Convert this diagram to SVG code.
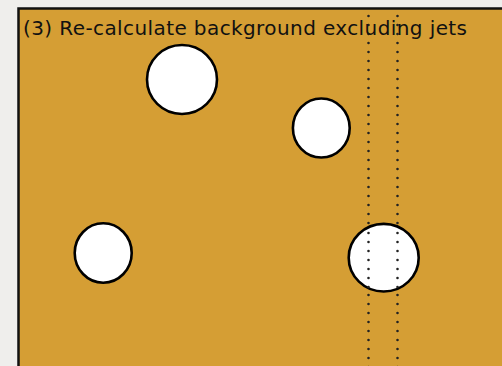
<svg xmlns="http://www.w3.org/2000/svg" width="502" height="366" viewBox="0 0 502 366">
<defs>
<style>
.jet{fill:#ffffff;stroke:#000000;stroke-width:2.6}
.dot{stroke:#222;stroke-width:2.6;stroke-linecap:round;stroke-dasharray:0 9;fill:none}
.title{font-family:"DejaVu Sans","Liberation Sans",Arial,sans-serif;font-size:20px;fill:#111}
</style>
</defs>
<rect x="0" y="0" width="502" height="366" fill="#efeeec"/>
<g id="panel">
<rect x="18.5" y="8.5" width="500" height="380" fill="#d59e34" stroke="#111" stroke-width="2.5"/>
</g>
<g id="strip">
<line class="dot" x1="368.5" y1="16" x2="368.5" y2="370"/>
<line class="dot" x1="397.5" y1="16" x2="397.5" y2="370"/>
</g>
<g id="jet1"><ellipse class="jet" cx="182" cy="79.5" rx="35" ry="34.5"/></g>
<g id="jet2"><ellipse class="jet" cx="321.3" cy="128" rx="28.4" ry="29.5"/></g>
<g id="jet3"><ellipse class="jet" cx="103.2" cy="253" rx="28.5" ry="29.7"/></g>
<g id="jet4">
<ellipse class="jet" cx="383.7" cy="257.7" rx="35" ry="33.8"/>
<line class="dot" x1="368.5" y1="233" x2="368.5" y2="290"/>
<line class="dot" x1="397.5" y1="233" x2="397.5" y2="290"/>
</g>
<text class="title" x="23" y="35" textLength="444" lengthAdjust="spacing">(3) Re-calculate background excluding jets</text>
</svg>
